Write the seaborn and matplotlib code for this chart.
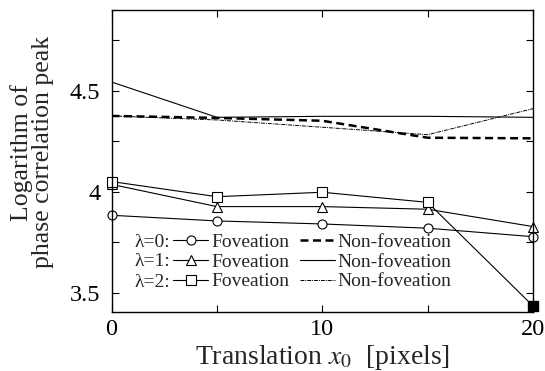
import matplotlib
matplotlib.use('Agg')
import matplotlib.pyplot as plt
import matplotlib.ticker as mticker
import seaborn as sns
import numpy as np

# values
x = [0, 5, 10, 15, 20]
fov_l0 = [3.883, 3.855, 3.840, 3.819, 3.777]
fov_l1 = [4.036, 3.926, 3.926, 3.913, 3.827]
fov_l2 = [4.050, 3.975, 3.997, 3.947, 3.434]
non_l0 = [4.375, 4.365, 4.351, 4.267, 4.264]
non_l1 = [4.543, 4.368, 4.373, 4.373, 4.368]
non_l2 = [4.375, 4.355, 4.319, 4.282, 4.411]
lambda_labels = ['λ=0:', 'λ=1:', 'λ=2:']

sns.set_style('ticks')
plt.rcParams['font.family'] = ['Liberation Serif', 'DejaVu Serif']
plt.rcParams['mathtext.fontset'] = 'stix'

fig = plt.figure(figsize=(5.45, 3.71), dpi=100)
ax = fig.add_axes([0.2046, 0.159, 0.7734, 0.8127])

thin = 0.8
mk = dict(markersize=6.5, markerfacecolor='white', markeredgecolor='black',
          markeredgewidth=0.8)

# foveation curves
sns.lineplot(x=x, y=fov_l0, ax=ax, color='black', lw=thin, marker='o', clip_on=False, **mk)
h_f0 = ax.lines[-1]
sns.lineplot(x=x, y=fov_l1, ax=ax, color='black', lw=thin, marker='^', clip_on=False, **mk)
h_f1 = ax.lines[-1]
sns.lineplot(x=x, y=fov_l2, ax=ax, color='black', lw=thin, marker='s', clip_on=False,
             markevery=[0, 1, 2, 3], **mk)
h_f2 = ax.lines[-1]
# last lambda=2 point is drawn filled
ax.plot(x[-1:], fov_l2[-1:], ls='none', marker='s', markersize=6.5, color='black',
        clip_on=False)

# non-foveation curves
sns.lineplot(x=x, y=non_l0, ax=ax, color='black', lw=1.8)
h_n0 = ax.lines[-1]
h_n0.set_dashes((3.2, 1.8))
sns.lineplot(x=x, y=non_l1, ax=ax, color='black', lw=thin)
h_n1 = ax.lines[-1]
sns.lineplot(x=x, y=non_l2, ax=ax, color='black', lw=0.7)
h_n2 = ax.lines[-1]
h_n2.set_dashes((4, 1, 1, 1))

ax.set_xlim(0, 20)
ax.set_ylim(3.404, 4.897)
ax.xaxis.set_major_locator(mticker.MultipleLocator(5))
ax.yaxis.set_major_locator(mticker.MultipleLocator(0.25))
ax.xaxis.set_major_formatter(mticker.FuncFormatter(
    lambda v, p: f'{v:g}' if abs(v % 10) < 1e-9 else ''))
ax.yaxis.set_major_formatter(mticker.FuncFormatter(
    lambda v, p: f'{v:g}' if abs((v * 2) % 1) < 1e-9 else ''))
ax.tick_params(direction='in', top=True, right=True, length=5, width=0.8,
               labelsize=17.5, colors='black')
ax.tick_params(axis='x', pad=5)
ax.tick_params(axis='y', pad=8)
for s in ax.spines.values():
    s.set_linewidth(1.0)
    s.set_color('black')

ax.set_xlabel('Translation $x_0$  [pixels]', fontsize=20, labelpad=2)
ax.set_ylabel('Logarithm of\nphase correlation peak', fontsize=18.5,
              linespacing=0.95)
ax.yaxis.set_label_coords(-0.136, 0.53)

handles = [h_f0, h_f1, h_f2, h_n0, h_n1, h_n2]
labels = ['Foveation'] * 3 + ['Non-foveation'] * 3
ax.legend(handles, labels, ncol=2, loc='center left', bbox_to_anchor=(0.146, 0.166),
          frameon=False, fontsize=14, handlelength=1.8, handletextpad=0.15,
          columnspacing=0.55, labelspacing=0.1, borderpad=0, borderaxespad=0)
for lab, yy in zip(lambda_labels, [0.229, 0.166, 0.0995]):
    ax.text(0.139, yy, lab, transform=ax.transAxes, ha='right', va='center',
            fontsize=14)

fig.savefig('out.png', dpi=100)
